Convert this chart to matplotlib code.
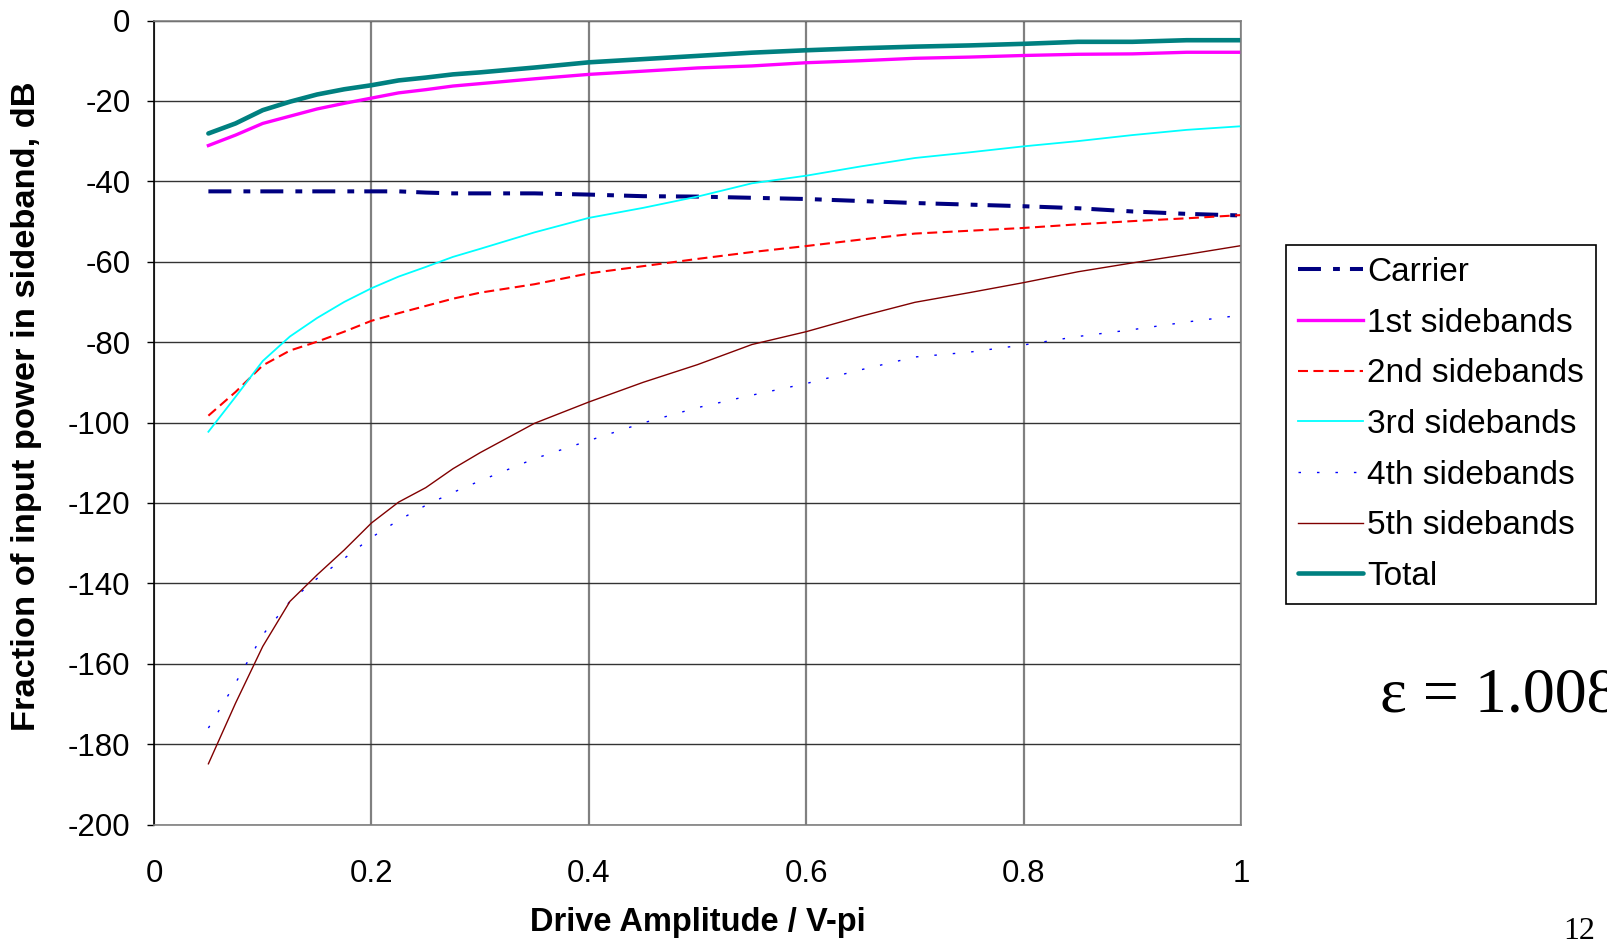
import matplotlib as mpl

mpl.use("Agg")
import matplotlib.pyplot as plt  # noqa: E402

# Drive amplitude (fraction of V-pi) at which each power was evaluated
drive = [0.05, 0.075, 0.1, 0.125, 0.15, 0.175, 0.2, 0.225, 0.25, 0.275, 0.3,
         0.35, 0.4, 0.45, 0.5, 0.55, 0.6, 0.65, 0.7, 0.75, 0.8, 0.85, 0.9,
         0.95, 1.0]

# Fraction of input power landing in each component, dB
carrier = [-42.5, -42.5, -42.5, -42.5, -42.5, -42.5, -42.5, -42.5, -42.8,
           -43.0, -43.0, -43.0, -43.3, -43.7, -43.8, -44.1, -44.4, -44.9,
           -45.4, -45.8, -46.2, -46.7, -47.5, -48.1, -48.5]
side1 = [-31.1, -28.5, -25.6, -23.8, -22.0, -20.6, -19.3, -18.0, -17.2,
         -16.3, -15.7, -14.5, -13.4, -12.6, -11.8, -11.3, -10.5, -10.0,
         -9.4, -9.1, -8.7, -8.4, -8.3, -7.9, -7.9]
side2 = [-98.3, -92.4, -85.8, -82.1, -79.9, -77.4, -74.7, -72.8, -71.0,
         -69.2, -67.7, -65.6, -62.9, -61.1, -59.3, -57.6, -56.1, -54.5,
         -53.0, -52.3, -51.6, -50.7, -49.9, -49.2, -48.4]
side3 = [-102.3, -93.6, -84.7, -78.6, -74.0, -70.0, -66.6, -63.7, -61.3,
         -58.8, -56.8, -52.7, -49.1, -46.6, -43.8, -40.5, -38.6, -36.3,
         -34.2, -32.8, -31.3, -30.0, -28.5, -27.2, -26.3]
side4 = [-176.0, -164.8, -152.8, -144.5, -138.8, -133.8, -128.6, -124.3,
         -120.6, -117.4, -114.5, -109.0, -104.5, -100.1, -96.3, -93.2,
         -90.3, -86.9, -83.7, -82.5, -80.7, -78.6, -76.9, -75.0, -73.3]
side5 = [-184.9, -169.8, -155.7, -144.5, -137.9, -131.7, -125.0, -119.8,
         -116.2, -111.5, -107.5, -100.2, -94.9, -90.0, -85.6, -80.6, -77.4,
         -73.6, -70.1, -67.7, -65.2, -62.5, -60.3, -58.2, -56.0]
total = [-28.1, -25.6, -22.3, -20.2, -18.4, -17.1, -16.1, -14.9, -14.2,
         -13.4, -12.9, -11.7, -10.4, -9.6, -8.8, -8.0, -7.4, -6.9, -6.5,
         -6.2, -5.8, -5.3, -5.3, -4.9, -4.9]

x_ticks = [0, 0.2, 0.4, 0.6, 0.8, 1]
x_tick_labels = ["0", "0.2", "0.4", "0.6", "0.8", "1"]
y_ticks = list(range(-200, 1, 20))

plt.rcParams.update({
    "font.family": ["Liberation Sans", "DejaVu Sans"],
    "axes.unicode_minus": False,
})

fig = plt.figure(figsize=(16.08, 9.41), dpi=100)
ax = fig.add_axes([0.0958, 0.1238, 0.676, 0.8544])

series = [
    ("Carrier", carrier, dict(color="#000080", lw=2.9,
                              ls=(0, (5.7, 3.0, 1.7, 2.5)))),
    ("1st sidebands", side1, dict(color="#ff00ff", lw=2.4, ls="-")),
    ("2nd sidebands", side2, dict(color="#ff0000", lw=1.5,
                                  ls=(0, (4.8, 2.6)))),
    ("3rd sidebands", side3, dict(color="#00ffff", lw=1.3, ls="-")),
    ("4th sidebands", side4, dict(color="#0000ff", lw=1.0,
                                  ls=(0, (1.8, 11.5)))),
    ("5th sidebands", side5, dict(color="#800000", lw=1.0, ls="-")),
    ("Total", total, dict(color="#008080", lw=3.3, ls="-",
                          solid_capstyle="round")),
]
for name, vals, style in series:
    ax.plot(drive, vals, label=name, **style)

ax.set_xlim(0, 1)
ax.set_ylim(-200, 0)
ax.set_xticks(x_ticks)
ax.set_xticklabels(x_tick_labels)
ax.set_yticks(y_ticks)
ax.tick_params(axis="x", length=0, pad=25, labelsize=22.5)
ax.tick_params(axis="y", length=5, width=1, direction="out", pad=12,
               labelsize=22.5)

ax.yaxis.grid(True, color="#333333", lw=1.0)
ax.xaxis.grid(True, color="#808080", lw=1.6)
ax.set_axisbelow(True)
for side in ("top", "right", "bottom"):
    ax.spines[side].set_color("#808080")
    ax.spines[side].set_linewidth(1.2)
ax.spines["left"].set_color("black")
ax.spines["left"].set_linewidth(1.2)

ax.set_xlabel("Drive Amplitude / V-pi", fontsize=23.5, fontweight="bold")
ax.xaxis.set_label_coords(0.5, -0.103)
ax.set_ylabel("Fraction of input power in sideband, dB", fontsize=24.8,
              fontweight="bold")
ax.yaxis.set_label_coords(-0.103, 0.52)

leg = fig.legend(loc="upper left", bbox_to_anchor=(0.7998, 0.7396),
                 borderaxespad=0, fontsize=24, handlelength=1.95,
                 handletextpad=0.12, labelspacing=0.59, borderpad=0.36,
                 fancybox=False, framealpha=1)
leg.get_frame().set_edgecolor("black")
leg.get_frame().set_linewidth(1.2)

fig.text(0.858, 0.2444, "\u03b5 = 1.008", fontsize=46,
         family=["Liberation Serif", "DejaVu Serif"], va="baseline")
fig.text(0.972, 0.002, "12", fontsize=23,
         family=["Liberation Serif", "DejaVu Serif"], va="baseline")

fig.savefig("out.png", dpi=100)
